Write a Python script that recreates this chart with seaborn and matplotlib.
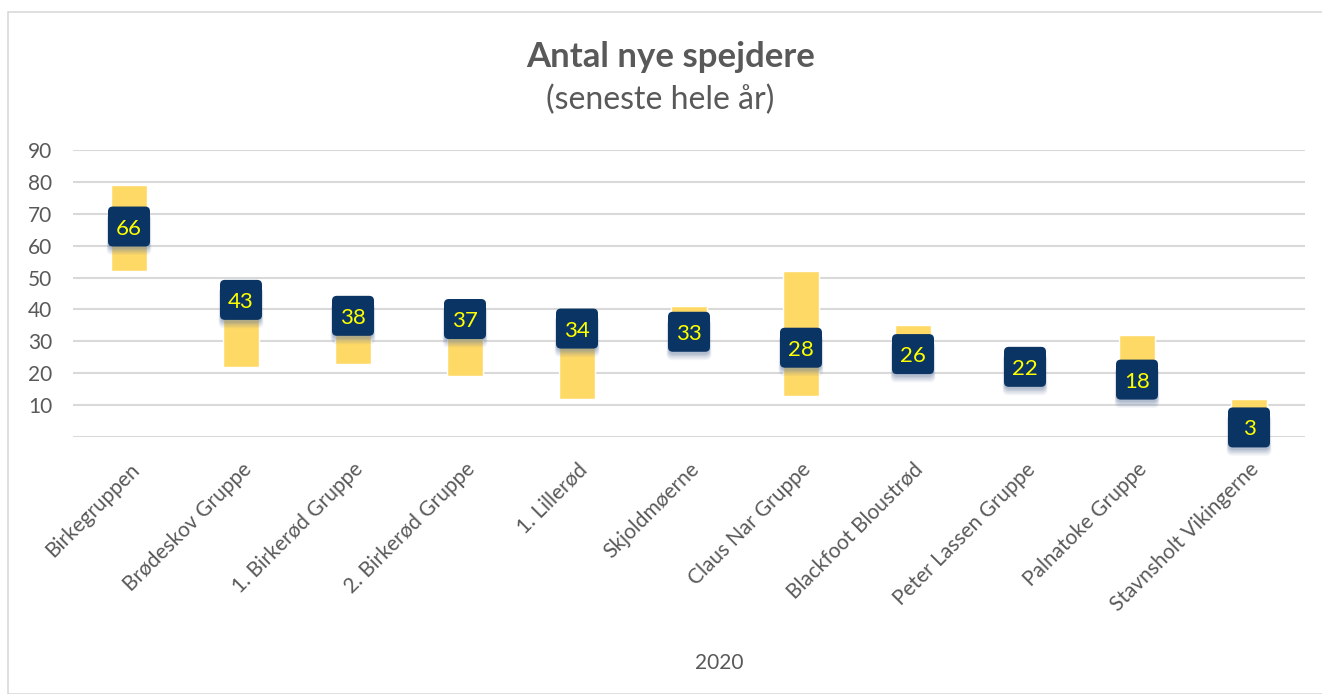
import matplotlib
matplotlib.use("Agg")
import matplotlib.pyplot as plt
import seaborn as sns
import pandas as pd
from matplotlib.offsetbox import DrawingArea, AnnotationBbox
from matplotlib.patches import FancyBboxPatch, Rectangle
from matplotlib.text import Text

categories = ["Birkegruppen", "Brødeskov Gruppe", "1. Birkerød Gruppe", "2. Birkerød Gruppe",
              "1. Lillerød", "Skjoldmøerne", "Claus Nar Gruppe", "Blackfoot Bloustrød",
              "Peter Lassen Gruppe", "Palnatoke Gruppe", "Stavnsholt Vikingerne"]
values = [66, 43, 38, 37, 34, 33, 28, 26, 22, 18, 3]
range_low = [52, 22, 23, 19, 12, 28, 13, 22, 19, 14, 0]
range_high = [79, 45, 42, 41, 37, 41, 52, 35, 25, 32, 12]
y_ticks = [10, 20, 30, 40, 50, 60, 70, 80, 90]

sns.set_theme(style="white")
plt.rcParams["font.family"] = ["Lato", "DejaVu Sans"]

GREY = "#595959"
NAVY = "#0A3463"
GOLD = "#FFD966"

df = pd.DataFrame({"cat": categories, "val": values,
                   "low": range_low, "high": range_high})
df["span"] = df["high"] - df["low"]

W, H = 1322, 694
fig = plt.figure(figsize=(W / 100, H / 100), dpi=100)
fig.patch.set_facecolor("white")
fig.patches.append(Rectangle((8 / W, 0), 1.0, 1 - 12 / H, transform=fig.transFigure,
                             fill=False, edgecolor="#D9D9D9", linewidth=1.2))

ax = fig.add_axes([73 / W, 1 - 437 / H, (1305 - 73) / W, (437 - 150) / H])
ax.set_facecolor("none")

sns.barplot(data=df, x="cat", y="span", bottom=df["low"].values, color=GOLD,
            width=0.33, saturation=1, ax=ax, zorder=2)

ax.set_ylim(0, 90)
ax.set_xlim(-0.5, len(categories) - 0.5)
ax.set_yticks([0] + y_ticks)
ax.set_yticklabels([""] + [str(t) for t in y_ticks])
ax.yaxis.grid(True, color="#D9D9D9", linewidth=1.5, zorder=0)
ax.set_axisbelow(True)
for s in ax.spines.values():
    s.set_visible(False)
ax.tick_params(axis="y", length=0, pad=15, labelsize=15, labelcolor=GREY)
ax.tick_params(axis="x", length=0, pad=16, labelsize=15, labelcolor=GREY)
ax.set_xticks(range(len(categories)))
ax.set_xticklabels(categories, rotation=45, ha="right", rotation_mode="anchor")
ax.set_xlabel("")
ax.set_ylabel("")

# value label boxes (fixed size, rounded)
bw, bh = 42 * 0.72, 40 * 0.72
for i, v in enumerate(values):
    da = DrawingArea(bw, bh, 0, 0)
    for k, (dy, a) in enumerate([(-6, 0.08), (-5, 0.10), (-4, 0.12), (-3, 0.15), (-2, 0.2)]):
        sh = FancyBboxPatch((-1 + k * 0.3, dy), bw + 2 - k * 0.6, bh,
                            boxstyle="round,pad=0,rounding_size=4",
                            facecolor="#6A7FA3", edgecolor="none", alpha=a)
        da.add_artist(sh)
    box = FancyBboxPatch((0, 0), bw, bh, boxstyle="round,pad=0,rounding_size=3.5",
                         facecolor=NAVY, edgecolor="none")
    da.add_artist(box)
    t = Text(bw / 2, bh / 2, str(v), color="#FFFF00", fontsize=16,
             ha="center", va="center_baseline", family=["Lato", "DejaVu Sans"])
    da.add_artist(t)
    ab = AnnotationBbox(da, (i, v), frameon=False, box_alignment=(0.5, 0.5), pad=0,
                        zorder=5)
    ax.add_artist(ab)

fig.text(671 / W, 1 - 57 / H, "Antal nye spejdere", ha="center", va="center",
         fontsize=25, fontweight="bold", color=GREY)
fig.text(660 / W, 1 - 100 / H, "(seneste hele år)", ha="center", va="center",
         fontsize=23, color=GREY)
fig.text(719 / W, 1 - 663 / H, "2020", ha="center", va="center", fontsize=15, color=GREY)

fig.savefig("out.png", dpi=100, facecolor="white")
